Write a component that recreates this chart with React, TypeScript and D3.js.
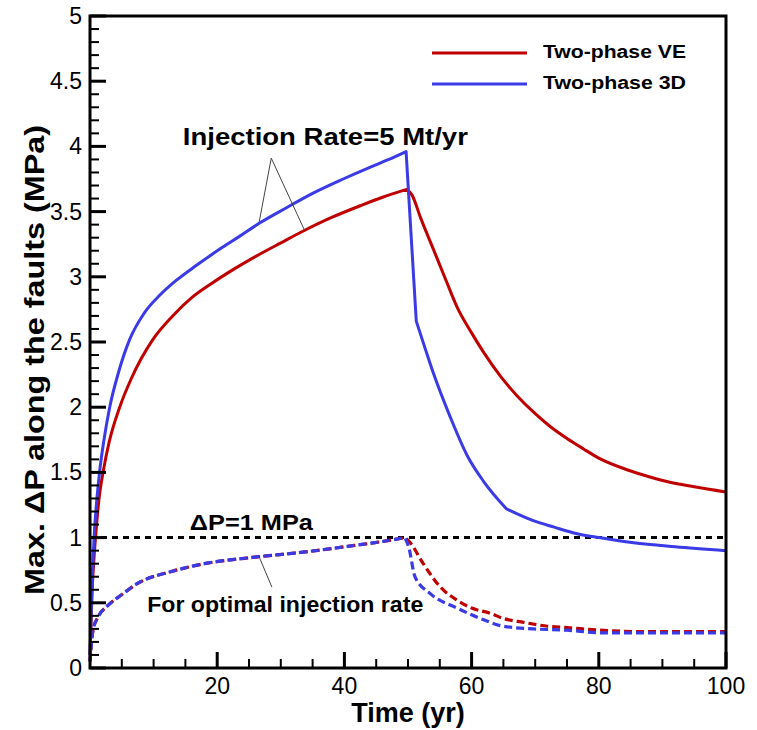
import React from "react";
import * as d3 from "d3";

const veT = [0, 0.3, 0.6, 1.0, 1.5, 2.05, 3, 4.67, 6.5, 9.9, 13, 16, 19, 22.5, 26, 30, 33.7, 38, 42.5, 46, 49.8, 50.6, 52, 54, 56, 57.7, 60, 61.9, 64.5, 67.1, 70, 72.4, 75, 77.6, 80, 83.9, 87, 90.7, 95, 100];
const veV = [0.1, 0.55, 0.82, 1.08, 1.33, 1.5, 1.73, 2.0, 2.22, 2.52, 2.7, 2.84, 2.945, 3.055, 3.155, 3.26, 3.355, 3.455, 3.545, 3.61, 3.67, 3.63, 3.45, 3.21, 2.97, 2.77, 2.57, 2.42, 2.24, 2.09, 1.95, 1.85, 1.76, 1.68, 1.61, 1.53, 1.48, 1.43, 1.39, 1.35];
const veBreaks = [20];

const d3T = [0, 0.3, 0.74, 1.0, 1.5, 2.2, 3.1, 4.5, 6.24, 8.5, 11, 13.5, 16.8, 20.65, 23.5, 26.6, 30.9, 35, 39.8, 44, 47, 49.7, 51.3, 52.5, 54, 56.6, 59.3, 61.9, 65.5, 69.7, 73, 76.6, 80, 85.5, 92, 100];
const d3V = [0.1, 0.6, 1.08, 1.25, 1.5, 1.75, 2.0, 2.27, 2.52, 2.72, 2.86, 2.97, 3.09, 3.22, 3.31, 3.41, 3.53, 3.64, 3.75, 3.84, 3.9, 3.96, 2.66, 2.48, 2.26, 1.93, 1.63, 1.43, 1.22, 1.13, 1.08, 1.03, 1.0, 0.96, 0.93, 0.9];
const d3Breaks = [21, 22, 28];

const optRiseT = [0, 0.47, 1.26, 2.83, 4.93, 7.55, 12.8, 18, 25.9, 33.8, 41.6, 46, 49.5];
const optRiseV = [0.05, 0.29, 0.39, 0.48, 0.56, 0.65, 0.74, 0.8, 0.85, 0.89, 0.94, 0.97, 1.0];
const optVeFallT = [49.5, 50.2, 52.4, 55.1, 57.7, 60, 62.9, 65, 68.2, 72, 75, 80.2, 85.5, 100];
const optVeFallV = [1.0, 0.97, 0.8, 0.62, 0.52, 0.46, 0.42, 0.38, 0.35, 0.32, 0.31, 0.29, 0.28, 0.28];
const opt3dFallT = [49.5, 50.1, 51.1, 53.5, 57.7, 61.9, 65, 69.7, 75, 80.2, 100];
const opt3dFallV = [1.0, 0.93, 0.7, 0.57, 0.46, 0.37, 0.32, 0.3, 0.29, 0.27, 0.27];

const xMajor = [20, 40, 60, 80, 100];
const yMajor = [0, 0.5, 1, 1.5, 2, 2.5, 3, 3.5, 4, 4.5, 5];
const yLabels = ["0", "0.5", "1", "1.5", "2", "2.5", "3", "3.5", "4", "4.5", "5"];
const legendNames = ["Two-phase VE", "Two-phase 3D"];
const thresholdValue = 1;

const RED = "#c00000";
const BLUE = "#3a3ae6";
const FONT = "'Liberation Sans', Arial, Helvetica, sans-serif";

export default function App() {
  const W = 757, H = 730;
  const x = d3.scaleLinear().domain([0, 100]).range([90, 726]);
  const y = d3.scaleLinear().domain([0, 5]).range([668, 16]);
  const smooth = d3.line<[number, number]>().x(d => x(d[0])).y(d => y(d[1])).curve(d3.curveMonotoneX);
  const zip = (ts: number[], vs: number[]) => ts.map((t, i) => [t, vs[i]] as [number, number]);
  const segPath = (pts: [number, number][], breaks: number[]) => {
    const idx = [0, ...breaks, pts.length - 1];
    let d = "";
    for (let i = 0; i < idx.length - 1; i++) {
      const seg = pts.slice(idx[i], idx[i + 1] + 1);
      const p = smooth(seg) || "";
      d += i === 0 ? p : "L" + p.slice(1);
    }
    return d;
  };

  const xMinor = d3.range(5, 100, 5).filter(v => v % 20 !== 0);
  const yMinor = d3.range(0.1, 5, 0.1).filter(v => Math.abs(v * 2 - Math.round(v * 2)) > 1e-6);

  const rise = zip(optRiseT, optRiseV);
  const veOpt = segPath(rise.concat(zip(optVeFallT, optVeFallV).slice(1)), [rise.length - 1]);
  const d3Opt = segPath(rise.concat(zip(opt3dFallT, opt3dFallV).slice(1)), [rise.length - 1]);

  return (
    <svg width={W} height={H} style={{ position: "absolute", left: 0, top: 0, background: "#fff" }} fontFamily={FONT}>
      <rect x={0} y={0} width={W} height={H} fill="#fff" />
      <line x1={x(0)} x2={x(100)} y1={y(thresholdValue)} y2={y(thresholdValue)} stroke="#000" strokeWidth={3} strokeDasharray="6,5" />
      <path d={veOpt} fill="none" stroke={RED} strokeWidth={3.2} strokeDasharray="8,4" />
      <path d={d3Opt} fill="none" stroke={BLUE} strokeWidth={3.2} strokeDasharray="8,4" strokeDashoffset={1} />
      <path d={segPath(zip(veT, veV), veBreaks)} fill="none" stroke={RED} strokeWidth={3} strokeLinejoin="round" />
      <path d={segPath(zip(d3T, d3V), d3Breaks)} fill="none" stroke={BLUE} strokeWidth={3} strokeLinejoin="round" />

      {xMajor.map(v => <line key={"xm" + v} x1={x(v)} x2={x(v)} y1={y(0)} y2={y(0) - 16} stroke="#000" strokeWidth={3} />)}
      {xMinor.map(v => <line key={"xn" + v} x1={x(v)} x2={x(v)} y1={y(0)} y2={y(0) - 9} stroke="#000" strokeWidth={2} />)}
      {yMajor.map(v => <line key={"ym" + v} x1={x(0)} x2={x(0) + 16} y1={y(v)} y2={y(v)} stroke="#000" strokeWidth={3} />)}
      {yMinor.map(v => <line key={"yn" + v} x1={x(0)} x2={x(0) + 9} y1={y(v)} y2={y(v)} stroke="#000" strokeWidth={2} />)}
      <rect x={x(0)} y={y(5)} width={x(100) - x(0)} height={y(0) - y(5)} fill="none" stroke="#000" strokeWidth={3} />

      {xMajor.map(v => <text key={"xl" + v} x={x(v)} y={y(0) + 26} textAnchor="middle" fontSize={23}>{v}</text>)}
      {yMajor.map((v, i) => <text key={"yl" + v} x={x(0) - 8} y={y(v) + 8} textAnchor="end" fontSize={23}>{yLabels[i]}</text>)}

      <text x={(x(0) + x(100)) / 2} y={722} textAnchor="middle" fontSize={27} fontWeight="bold">Time (yr)</text>
      <text transform={`translate(44,${360}) rotate(-90)`} textAnchor="middle" fontSize={28} fontWeight="bold" textLength={470} lengthAdjust="spacingAndGlyphs">Max. ΔP along the faults (MPa)</text>

      {legendNames.map((n, i) => (
        <g key={n}>
          <line x1={432} x2={527} y1={53 + i * 31} y2={53 + i * 31} stroke={i === 0 ? RED : BLUE} strokeWidth={3} />
          <text x={543} y={58 + i * 30.5} fontSize={18} fontWeight="bold" textLength={143} lengthAdjust="spacingAndGlyphs">{n}</text>
        </g>
      ))}

      <text x={x(14.6)} y={y(4.01)} fontSize={24} fontWeight="bold" textLength={285} lengthAdjust="spacingAndGlyphs">Injection Rate=5 Mt/yr</text>
      <line x1={x(28.5)} y1={y(3.91)} x2={x(26.6)} y2={y(3.42)} stroke="#444" strokeWidth={1} />
      <line x1={x(28.5)} y1={y(3.91)} x2={x(33.7)} y2={y(3.36)} stroke="#444" strokeWidth={1} />
      <text x={x(15.7)} y={y(1.06)} fontSize={22} fontWeight="bold" textLength={123} lengthAdjust="spacingAndGlyphs">ΔP=1 MPa</text>
      <text x={x(9.0)} y={y(0.43)} fontSize={22} fontWeight="bold" textLength={276} lengthAdjust="spacingAndGlyphs">For optimal injection rate</text>
      <line x1={x(26.7)} y1={y(0.84)} x2={x(28.6)} y2={y(0.62)} stroke="#444" strokeWidth={1} />
    </svg>
  );
}
